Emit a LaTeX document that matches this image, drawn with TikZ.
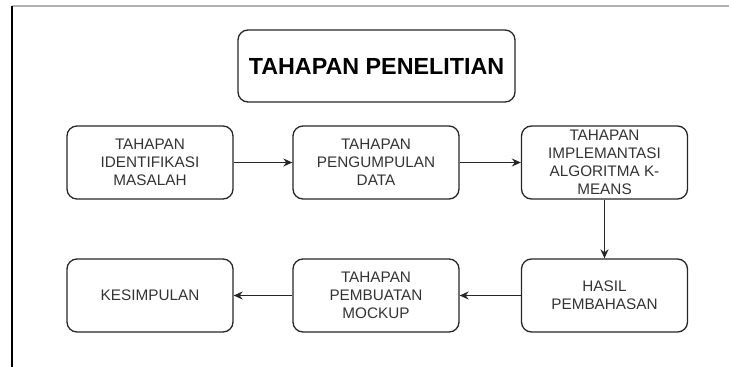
\documentclass[tikz,border=0pt]{standalone}
\usepackage{fontspec}
\setmainfont{Liberation Sans}
\usetikzlibrary{arrows.meta}
\begin{document}
\begin{tikzpicture}[x=1pt,y=-1pt,
  stepbox/.style={draw=black!85, line width=1.3pt, rounded corners=10pt, minimum width=166pt, minimum height=73pt, align=center, inner sep=0pt, text=black!80, font=\fontsize{15.3}{18}\selectfont},
  titlebox/.style={draw=black!85, line width=1.3pt, rounded corners=10pt, minimum width=277pt, minimum height=72pt, inner sep=0pt, font=\fontsize{23.3}{26}\selectfont\bfseries},
  conn/.style={draw=black!85, line width=1.4pt, -{Stealth[length=9pt,width=8pt]}}]
\useasboundingbox (0,0) rectangle (729,367);
\coordinate (tl) at (12,6);
\coordinate (tr) at (729,6);
\coordinate (bl) at (12,367);
\draw[black!30, line width=1.2pt] (tl) -- (tr);
\draw[black, line width=1.4pt] (tl) -- (bl);
\node[titlebox] (title) at (376.5,66) {TAHAPAN PENELITIAN};
\node[stepbox] (b1) at (150,162.5) {TAHAPAN\\IDENTIFIKASI\\MASALAH};
\node[stepbox] (b2) at (376,162.5) {TAHAPAN\\PENGUMPULAN\\DATA};
\node[stepbox] (b3) at (604.5,162.5) {TAHAPAN\\IMPLEMANTASI\\ALGORITMA K-\\MEANS};
\node[stepbox] (b4) at (604.5,295.5) {HASIL\\PEMBAHASAN};
\node[stepbox] (b5) at (376,295.5) {TAHAPAN\\PEMBUATAN\\MOCKUP};
\node[stepbox] (b6) at (150,295.5) {KESIMPULAN};
\draw[conn] (b1) -- (b2);
\draw[conn] (b2) -- (b3);
\draw[conn] (b3) -- (b4);
\draw[conn] (b4) -- (b5);
\draw[conn] (b5) -- (b6);
\end{tikzpicture}
\end{document}
